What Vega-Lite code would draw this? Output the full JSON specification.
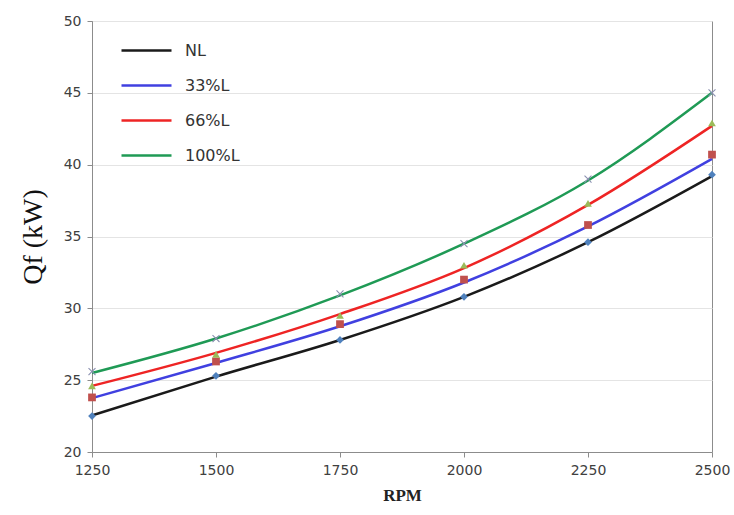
{
  "$schema": "https://vega.github.io/schema/vega-lite/v6.json",
  "width": 620,
  "height": 431,
  "autosize": "none",
  "padding": {"left": 92, "top": 21, "right": 22, "bottom": 63},
  "background": "white",
  "config": {
    "view": {"stroke": "#8c8c8c", "strokeWidth": 1},
    "axis": {
      "labelFont": "DejaVu Sans",
      "labelFontSize": 14,
      "labelColor": "#404040",
      "domainColor": "#8c8c8c",
      "tickColor": "#8c8c8c",
      "tickSize": 5,
      "gridColor": "#e4e4e4",
      "labelFlush": false
    }
  },
  "data": {
    "values": [
      {"rpm": 1250, "s": "NL", "q": 22.55, "m": 22.5},
      {"rpm": 1500, "s": "NL", "q": 25.25, "m": 25.3},
      {"rpm": 1750, "s": "NL", "q": 27.8, "m": 27.8},
      {"rpm": 2000, "s": "NL", "q": 30.8, "m": 30.8},
      {"rpm": 2250, "s": "NL", "q": 34.6, "m": 34.6},
      {"rpm": 2500, "s": "NL", "q": 39.2, "m": 39.3},
      {"rpm": 1250, "s": "33%L", "q": 23.75, "m": 23.8},
      {"rpm": 1500, "s": "33%L", "q": 26.2, "m": 26.3},
      {"rpm": 1750, "s": "33%L", "q": 28.75, "m": 28.9},
      {"rpm": 2000, "s": "33%L", "q": 31.8, "m": 32.0},
      {"rpm": 2250, "s": "33%L", "q": 35.7, "m": 35.8},
      {"rpm": 2500, "s": "33%L", "q": 40.4, "m": 40.7},
      {"rpm": 1250, "s": "66%L", "q": 24.6, "m": 24.6},
      {"rpm": 1500, "s": "66%L", "q": 26.9, "m": 26.8},
      {"rpm": 1750, "s": "66%L", "q": 29.6, "m": 29.5},
      {"rpm": 2000, "s": "66%L", "q": 32.8, "m": 33.0},
      {"rpm": 2250, "s": "66%L", "q": 37.2, "m": 37.3},
      {"rpm": 2500, "s": "66%L", "q": 42.7, "m": 42.9},
      {"rpm": 1250, "s": "100%L", "q": 25.5, "m": 25.6},
      {"rpm": 1500, "s": "100%L", "q": 27.9, "m": 27.9},
      {"rpm": 1750, "s": "100%L", "q": 30.9, "m": 31.0},
      {"rpm": 2000, "s": "100%L", "q": 34.5, "m": 34.5},
      {"rpm": 2250, "s": "100%L", "q": 38.9, "m": 39.0},
      {"rpm": 2500, "s": "100%L", "q": 45.0, "m": 45.0}
    ]
  },
  "encoding": {
    "x": {
      "field": "rpm",
      "type": "quantitative",
      "scale": {"domain": [1250, 2500], "nice": false, "zero": false},
      "axis": {
        "values": [1250, 1500, 1750, 2000, 2250, 2500],
        "grid": false,
        "title": "RPM",
        "titleFont": "Liberation Serif",
        "titleFontSize": 17,
        "titleFontWeight": "bold",
        "titleColor": "#222222",
        "titlePadding": 10,
        "labelPadding": 6,
        "format": "d"
      }
    }
  },
  "layer": [
    {
      "mark": {"type": "line", "interpolate": "monotone", "strokeWidth": 2.5},
      "encoding": {
        "y": {
          "field": "q",
          "type": "quantitative",
          "scale": {"domain": [20, 50], "nice": false, "zero": false},
          "axis": {
            "values": [20, 25, 30, 35, 40, 45, 50],
            "grid": true,
            "title": "Qf  (kW)",
            "titleFont": "Liberation Serif",
            "titleFontSize": 28,
            "titleFontWeight": "normal",
            "titleColor": "#111111",
            "titlePadding": 16,
            "labelPadding": 6
          }
        },
        "color": {
          "field": "s",
          "type": "nominal",
          "scale": {
            "domain": ["NL", "33%L", "66%L", "100%L"],
            "range": ["#1a1a1a", "#4040e0", "#ee2424", "#1f9a55"]
          },
          "legend": {
            "orient": "none",
            "legendX": 28,
            "legendY": 3,
            "title": null,
            "symbolType": "stroke",
            "symbolSize": 2500,
            "symbolStrokeWidth": 2.5,
            "labelFont": "DejaVu Sans",
            "labelFontSize": 16,
            "labelColor": "#333333",
            "rowPadding": -26,
            "labelOffset": 12
          }
        }
      }
    },
    {
      "mark": {"type": "point", "filled": true, "opacity": 1, "size": 60},
      "encoding": {
        "y": {"field": "m", "type": "quantitative"},
        "color": {
          "field": "s",
          "type": "nominal",
          "scale": {
            "domain": ["NL", "33%L", "66%L", "100%L"],
            "range": ["#4f81bd", "#c0504d", "#9bbb59", "#8a8fb0"]
          },
          "legend": null
        },
        "shape": {
          "field": "s",
          "type": "nominal",
          "scale": {
            "domain": ["NL", "33%L", "66%L", "100%L"],
            "range": ["diamond", "square", "triangle-up", "M-1,-0.8L-0.8,-1L0,-0.2L0.8,-1L1,-0.8L0.2,0L1,0.8L0.8,1L0,0.2L-0.8,1L-1,0.8L-0.2,0Z"]
          },
          "legend": null
        }
      }
    }
  ],
  "resolve": {"scale": {"color": "independent"}}
}
